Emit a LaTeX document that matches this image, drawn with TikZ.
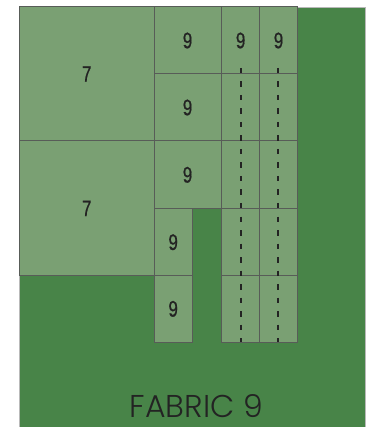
\documentclass[tikz,border=0pt]{standalone}
\usepackage{fontspec}
\newfontfamily\numfont[FakeStretch=0.76,FakeBold=0.6]{Liberation Sans}
\newfontfamily\labfont{Poppins Light}
\definecolor{fabric}{RGB}{72,132,72}
\definecolor{piecefill}{RGB}{122,160,115}
\definecolor{edge}{RGB}{88,92,88}
\definecolor{ink}{RGB}{35,35,35}
\tikzset{
  fabricbox/.style={fill=fabric, draw=gray!55, line width=0.6pt, inner sep=0pt, outer sep=0pt, anchor=north west},
  piece/.style={fill=piecefill, draw=edge, line width=1pt, inner sep=0pt, outer sep=0pt, anchor=north west, text=ink, font=\numfont\fontsize{22.5}{22.5}\selectfont},
  cutline/.style={draw=ink, line width=1.8pt, dash pattern=on 5.5pt off 8pt},
  title/.style={text=ink, font=\labfont\fontsize{31.5}{31.5}\selectfont, inner sep=0pt}
}
\begin{document}
\begin{tikzpicture}[x=1pt,y=-1pt]
\useasboundingbox (0,0) rectangle (371,427);
\fill[white] (0,0) rectangle (371,427);
\node[fabricbox, minimum width=345.5pt, minimum height=425pt] (fab) at (19.5,7) {};
% large pieces 7
\node[piece, minimum width=134.5pt, minimum height=134pt] (a7) at (19.5,7) {7};
\node[piece, minimum width=134.5pt, minimum height=134.7pt] (b7) at (19.5,141) {7};
% column of 9s
\node[piece, minimum width=67pt, minimum height=67pt] (c1) at (154,7) {9};
\node[piece, minimum width=67pt, minimum height=67pt] (c2) at (154,74) {9};
\node[piece, minimum width=67pt, minimum height=67.7pt] (c3) at (154,141) {9};
\node[piece, minimum width=38.3pt, minimum height=67pt] (d1) at (154,208.7) {9};
\node[piece, minimum width=38.3pt, minimum height=66.3pt] (d2) at (154,275.7) {9};
% strips
\node[piece, minimum width=38.2pt, minimum height=67pt] (s1r1) at (221.5,7) {9};
\node[piece, minimum width=37.6pt, minimum height=67pt] (s2r1) at (259.7,7) {9};
\foreach \i/\y/\h in {2/74/67, 3/141/67.7, 4/208.7/67, 5/275.7/66.3} {
  \node[piece, minimum width=38.2pt, minimum height=\h pt] (s1r\i) at (221.5,\y) {};
  \node[piece, minimum width=37.6pt, minimum height=\h pt] (s2r\i) at (259.7,\y) {};
}
% cut lines
\coordinate (t1) at (241.3,68);
\coordinate (b1) at (241.3,342);
\coordinate (t2) at (277.7,68);
\coordinate (b2) at (277.7,342);
\draw[cutline] (t1) -- (b1);
\draw[cutline] (t2) -- (b2);
% title
\node[title] (lab) at (196.5,406) {FABRIC 9};
\end{tikzpicture}
\end{document}
